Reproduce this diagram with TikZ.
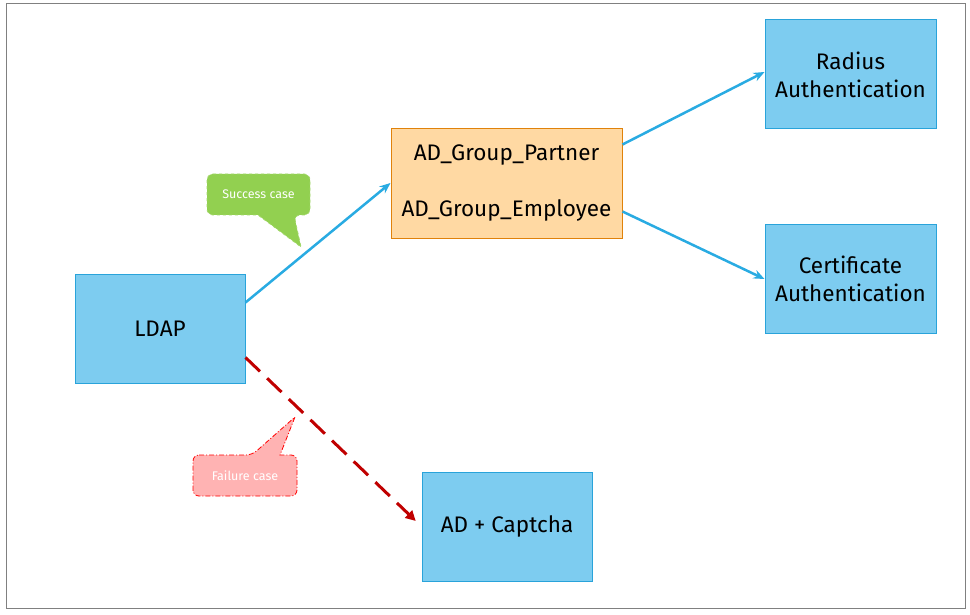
\documentclass[tikz,border=0pt]{standalone}
\usepackage{fontspec}
\setmainfont{Fira Sans}
\usetikzlibrary{arrows.meta,calc}
\definecolor{boxblue}{HTML}{7DCCF0}
\definecolor{boxblueline}{HTML}{29A3DA}
\definecolor{peach}{HTML}{FFD9A3}
\definecolor{peachline}{HTML}{E0820A}
\definecolor{arrowblue}{HTML}{29ABE2}
\definecolor{darkred}{HTML}{C00000}
\definecolor{okgreen}{HTML}{92D050}
\definecolor{failpink}{HTML}{FFB3B3}
\tikzset{
  x=1pt,y=-1pt,
  bluebox/.style={draw=boxblueline,fill=boxblue,line width=1pt,minimum width=170pt,minimum height=109pt,align=center,font=\fontsize{22.5}{28}\selectfont,inner sep=0pt},
  peachbox/.style={draw=peachline,fill=peach,line width=1pt,minimum width=231pt,minimum height=109pt,align=center,font=\fontsize{22.5}{28}\selectfont,inner sep=0pt},
  flow/.style={draw=arrowblue,line width=2.5pt,-{Stealth[length=11pt,width=9pt]}},
  failflow/.style={draw=darkred,line width=3pt,dash pattern=on 20pt off 10pt,-{Triangle[length=10pt,width=10pt]}},
  calltext/.style={text=white,font=\fontsize{12.5}{15}\selectfont}
}
\begin{document}
\begin{tikzpicture}
\useasboundingbox (0,0) rectangle (970,615);
\draw[gray,line width=1pt] (6,4) rectangle (965,608);

% success callout
\coordinate (stip) at (301,247);
\draw[okgreen!85!white,fill=okgreen,line width=0.8pt,dashed,rounded corners=6pt]
  (207,174) -- (310,174) -- (310,215) -- (294,215) [sharp corners] -- (stip) -- (258,215) [rounded corners=6pt] -- (207,215) -- cycle;
\node[calltext] (succ) at (258.5,194.5) {Success case};

% failure callout
\coordinate (ftip) at (295,417);
\draw[red,fill=failpink,line width=0.8pt,dash pattern=on 5pt off 2pt on 1pt off 2pt,rounded corners=6pt]
  (193,455) -- (252,455) [sharp corners] -- (ftip) -- (280,455) [rounded corners=6pt] -- (297,455) -- (297,496) -- (193,496) -- cycle;
\node[calltext] (fail) at (245,475.5) {Failure case};

\node[bluebox] (ldap) at (160,328.5) {LDAP};
\node[peachbox] (adg) at (506.5,183.5) {AD\_Group\_Partner\\[28pt]AD\_Group\_Employee};
\node[bluebox,minimum width=171pt] (radius) at (850.5,74.5) {Radius\\Authentication};
\node[bluebox,minimum width=171pt,minimum height=108pt] (cert) at (850.5,279) {Certificate\\Authentication};
\node[bluebox] (captcha) at (507,526.5) {AD + Captcha};

\draw[flow] ([yshift=-29pt]ldap.north east) -- ([yshift=0.5pt]adg.west);
\draw[flow] ([yshift=-16pt]adg.north east) -- ([yshift=2.5pt]radius.west);
\draw[flow] ([yshift=27pt]adg.south east) -- (cert.west);
\draw[failflow,shorten >=8pt] ([yshift=26pt]ldap.south east) -- (captcha.west);
\end{tikzpicture}
\end{document}
